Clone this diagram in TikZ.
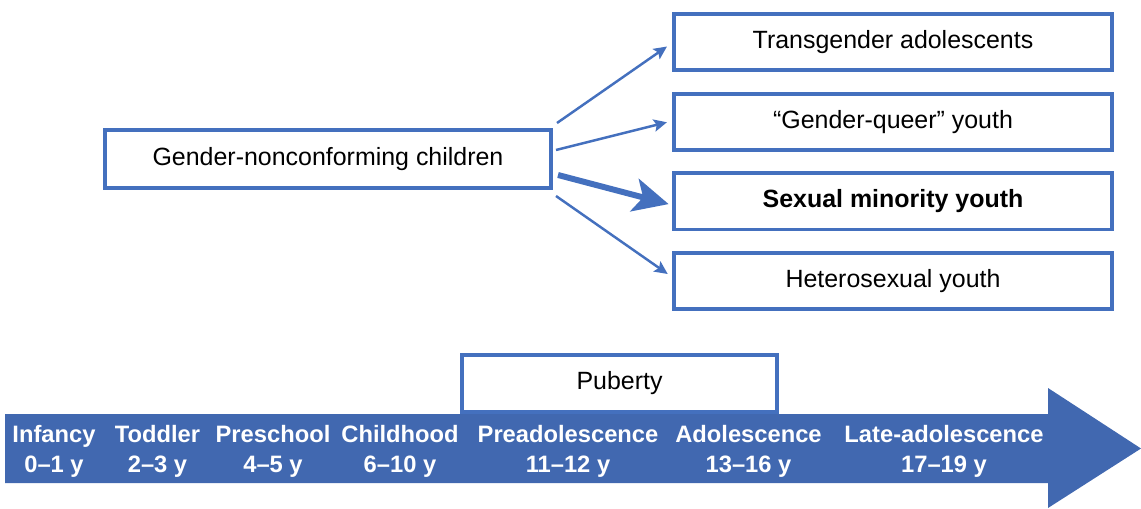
\documentclass[tikz,border=0pt]{standalone}
\usepackage{fontspec}
\setmainfont{Liberation Sans}
\usetikzlibrary{arrows.meta,calc}
\definecolor{fblue}{HTML}{4168B0}
\definecolor{bblue}{HTML}{4470BE}
\begin{document}
\begin{tikzpicture}[x=0.02cm,y=-0.02cm,
  box/.style={draw=bblue,line width=2pt,fill=white,inner sep=0pt,
    font=\fontsize{14.2}{17}\selectfont,text=black},
  rbox/.style={box,minimum width=8.77cm,minimum height=1.13cm},
  thinarr/.style={draw=bblue,line width=1.4pt,-{Stealth[length=7.5pt,width=7pt,inset=1.5pt]}},
  thickarr/.style={draw=bblue,line width=3.4pt,-{Stealth[length=20pt,width=19pt,inset=5pt]}},
  tl/.style={text=white,align=center,font=\bfseries\fontsize{13.5}{17}\selectfont,inner sep=0pt}]
\useasboundingbox (0,0) rectangle (1141,509);
% source box
\node[box,minimum width=8.93cm,minimum height=1.17cm] (src) at (328,159) {Gender-nonconforming children};
% target boxes
\node[rbox] (t1) at (893,42) {Transgender adolescents};
\node[rbox] (t2) at (893,122) {``Gender-queer'' youth};
\node[rbox,font=\bfseries\fontsize{14.2}{17}\selectfont] (t3) at (893,201.5) {Sexual minority youth};
\node[rbox] (t4) at (893,281) {Heterosexual youth};
% arrow starts
\coordinate (s1) at (557,123);
\coordinate (s2) at (556,150);
\coordinate (s3) at (558,175);
\coordinate (s4) at (556,196);
\draw[thinarr,shorten >=3.5pt] (s1) -- ($(t1.west)+(0,1)$);
\draw[thinarr,shorten >=3pt] (s2) -- ($(t2.west)+(0,-1)$);
\draw[thickarr,shorten >=2pt] (s3) -- ($(t3.west)+(0,3.5)$);
\draw[thinarr,shorten >=3pt] (s4) -- ($(t4.west)+(0,-4)$);
% puberty box
\node[box,minimum width=6.31cm,minimum height=1.15cm] (pub) at (619.5,383.5) {Puberty};
% timeline arrow
\fill[fblue] (5,414) -- (1048,414) -- (1048,388) -- (1141,448.5) -- (1048,508) -- (1048,483) -- (5,483) -- cycle;
% labels
\node[tl] (l1) at (54,451) {Infancy\\0--1 y};
\node[tl] (l2) at (157.5,451) {Toddler\\2--3 y};
\node[tl] (l3) at (273,451) {Preschool\\4--5 y};
\node[tl] (l4) at (400,451) {Childhood\\6--10 y};
\node[tl] (l5) at (568,451) {Preadolescence\\11--12 y};
\node[tl] (l6) at (748.5,451) {Adolescence\\13--16 y};
\node[tl] (l7) at (944,451) {Late-adolescence\\17--19 y};
\end{tikzpicture}
\end{document}
